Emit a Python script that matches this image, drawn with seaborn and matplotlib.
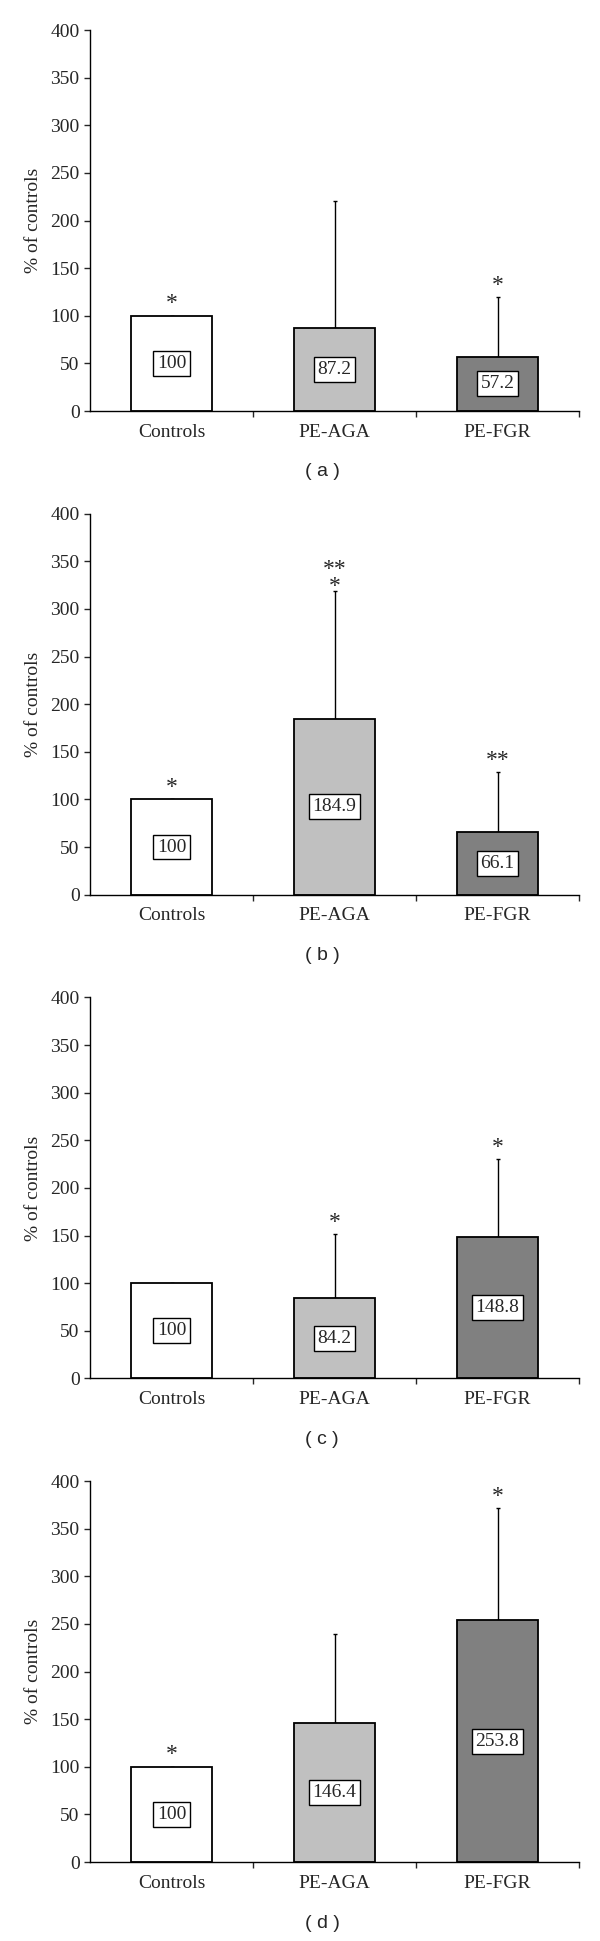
import numpy as np
import pandas as pd
import matplotlib
matplotlib.use("Agg")
import matplotlib.pyplot as plt
import seaborn as sns

# ---- data ----
groups = ["Controls", "PE-AGA", "PE-FGR"]
panel_names = ["a", "b", "c", "d"]
means_a = [100, 87.2, 57.2]
means_b = [100, 184.9, 66.1]
means_c = [100, 84.2, 148.8]
means_d = [100, 146.4, 253.8]
sd_a = [0, 133, 62]
sd_b = [0, 134, 62.5]
sd_c = [0, 67.5, 81.5]
sd_d = [0, 93.5, 117.5]
stars_a = ["*", "", "*"]
stars_b = ["*", "**\n*", "**"]
stars_c = ["", "*", "*"]
stars_d = ["*", "", "*"]
yticks = [0, 50, 100, 150, 200, 250, 300, 350, 400]
bar_colors = ["#FFFFFF", "#C0C0C0", "#808080"]

means_all = [means_a, means_b, means_c, means_d]
sd_all = [sd_a, sd_b, sd_c, sd_d]
stars_all = [stars_a, stars_b, stars_c, stars_d]

sns.set_style("ticks")
plt.rcParams["font.family"] = ["Liberation Serif", "DejaVu Serif"]

W, H = 600, 1941
fig = plt.figure(figsize=(W / 100, H / 100), dpi=100)

left_px, right_px = 90, 579
top0, bot0 = 30, 411
step = 483.7

for i in range(4):
    top = top0 + step * i
    bot = bot0 + step * i
    ax = fig.add_axes([left_px / W, 1 - bot / H, (right_px - left_px) / W, (bot - top) / H])
    df = pd.DataFrame({"group": groups, "value": means_all[i]})
    sns.barplot(data=df, x="group", y="value", hue="group", palette=bar_colors,
                order=groups, hue_order=groups, width=0.5, edgecolor="black",
                linewidth=1.3, legend=False, ax=ax, zorder=2)
    sds = sd_all[i]
    ax.errorbar(range(3), means_all[i], yerr=[[0, 0, 0], sds], fmt="none",
                ecolor="black", elinewidth=1.0, capsize=1.5, capthick=1.0, zorder=1)
    for j, (m, s, st) in enumerate(zip(means_all[i], sds, stars_all[i])):
        ax.text(j, m / 2, f"{m:g}", ha="center", va="center", fontsize=14,
                bbox=dict(boxstyle="square,pad=0.2", fc="white", ec="black", lw=1.0),
                zorder=4)
        if st:
            multi = "\n" in st
            ax.annotate(st, (j, m + s), xytext=(0, -4 if multi else 1),
                        textcoords="offset points", ha="center", va="bottom",
                        fontsize=17, linespacing=0.75, multialignment="center")
    ax.set_xlim(-0.5, 2.5)
    ax.set_ylim(0, 400)
    ax.set_yticks(yticks)
    ax.tick_params(axis="y", labelsize=14, length=4, width=1, direction="out")
    ax.set_xticks([0, 1, 2])
    ax.set_xticklabels(groups)
    ax.tick_params(axis="x", which="major", length=0, labelsize=14, pad=9)
    ax.set_xticks([0.5, 1.5, 2.5], minor=True)
    ax.tick_params(axis="x", which="minor", length=4, width=1, direction="out")
    ax.set_xlabel("")
    ax.set_ylabel("% of controls", fontsize=14, labelpad=6)
    for sp in ["top", "right"]:
        ax.spines[sp].set_visible(False)
    for sp in ["left", "bottom"]:
        ax.spines[sp].set_linewidth(1.0)
        ax.spines[sp].set_color("black")
    ax.set_facecolor("white")
    fig.text(322 / W, 1 - (472 + step * i) / H, f"( {panel_names[i]} )",
             ha="center", va="center", fontsize=14, family=["Liberation Sans", "DejaVu Sans"])

fig.savefig("out.png", dpi=100, facecolor="white")
